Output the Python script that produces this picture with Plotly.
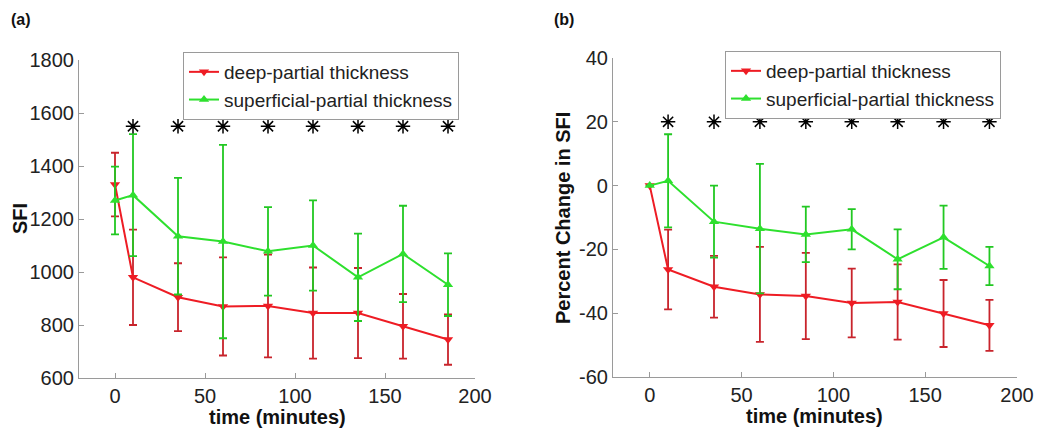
import plotly.graph_objects as go

# ---- data ----
time_min = [0, 10, 35, 60, 85, 110, 135, 160, 185]
star_times = [10, 35, 60, 85, 110, 135, 160, 185]

sfi_deep = [1330, 980, 905, 870, 872, 845, 845, 795, 745]
sfi_deep_err = [120, 180, 128, 185, 194, 172, 170, 122, 95]
sfi_sup = [1270, 1290, 1135, 1115, 1078, 1100, 980, 1068, 952]
sfi_sup_err = [128, 230, 220, 365, 167, 170, 165, 182, 118]
sfi_star_level = 1550

pct_deep = [0, -26.3, -31.7, -34.1, -34.6, -36.8, -36.5, -40.1, -43.8]
pct_deep_err = [0, 12.5, 9.7, 14.9, 13.5, 10.8, 11.8, 10.5, 8]
pct_sup = [0, 1.5, -11.3, -13.5, -15.3, -13.7, -23.1, -16.2, -25.2]
pct_sup_err = [0, 14.6, 11.3, 20.3, 8.7, 6.3, 9.4, 9.9, 6]
pct_star_level = 20

sfi_ticks = [600, 800, 1000, 1200, 1400, 1600, 1800]
pct_ticks = [-60, -40, -20, 0, 20, 40]
pct_tick_text = ["-60", "-40", "-20", "0", "20", "40"]

names = ["deep-partial thickness", "superficial-partial thickness"]
panel_labels = ["(a)", "(b)"]

RED = "#ee1c24"
GREEN = "#2ee02e"
RED_ERR = "#c8242c"
GREEN_ERR = "#22c822"
FONT = "Liberation Sans, Arial, sans-serif"

W, H = 1050, 435
OFF = 8  # page body margin in the browser

def px(x):
    return (x - OFF) / W

def py(y):
    return 1 - (y - OFF) / H

fig = go.Figure()

def add_panel(xa, ya, legend, deep, deep_err, sup, sup_err, star_level):
    fig.add_trace(go.Scatter(
        x=time_min, y=deep, name=names[0], mode="lines+markers",
        line=dict(color=RED, width=2),
        marker=dict(symbol="triangle-down", size=9, color=RED),
        error_y=dict(type="data", array=deep_err, visible=True,
                     color=RED_ERR, thickness=1.8, width=4),
        xaxis=xa, yaxis=ya, legend=legend))
    fig.add_trace(go.Scatter(
        x=time_min, y=sup, name=names[1], mode="lines+markers",
        line=dict(color=GREEN, width=2),
        marker=dict(symbol="triangle-up", size=9, color=GREEN),
        error_y=dict(type="data", array=sup_err, visible=True,
                     color=GREEN_ERR, thickness=1.8, width=4),
        xaxis=xa, yaxis=ya, legend=legend))
    fig.add_trace(go.Scatter(
        x=star_times, y=[star_level] * len(star_times), mode="markers",
        marker=dict(symbol="asterisk-open", size=12, color="black",
                    line=dict(color="black", width=1.5)),
        showlegend=False, hoverinfo="skip", xaxis=xa, yaxis=ya))

add_panel("x", "y", "legend", sfi_deep, sfi_deep_err, sfi_sup, sfi_sup_err, sfi_star_level)
add_panel("x2", "y2", "legend2", pct_deep, pct_deep_err, pct_sup, pct_sup_err, pct_star_level)

axis_common = dict(showgrid=False, zeroline=False, showline=True,
                   linecolor="#9a9a9a", linewidth=1.2, ticks="inside",
                   ticklen=5, tickcolor="#9a9a9a", mirror=False,
                   automargin=False,
                   tickfont=dict(family=FONT, size=20, color="#222"))

legend_common = dict(xanchor="left", yanchor="top",
                     bordercolor="#9a9a9a", borderwidth=1, bgcolor="white",
                     font=dict(family=FONT, size=19, color="#222"),
                     tracegroupgap=0, itemwidth=30)

fig.update_layout(
    width=W, height=H,
    margin=dict(l=0, r=0, t=0, b=0, autoexpand=False),
    paper_bgcolor="white", plot_bgcolor="white",
    showlegend=True,
    xaxis=dict(domain=[px(79), px(475)], range=[-20, 200], dtick=50,
               anchor="y", **axis_common),
    yaxis=dict(domain=[py(378), py(60)], range=[600, 1800],
               tickvals=sfi_ticks, anchor="x", **axis_common),
    xaxis2=dict(domain=[px(613), px(1017)], range=[-20, 200], dtick=50,
                anchor="y2", **axis_common),
    yaxis2=dict(domain=[py(377), py(58)], range=[-60, 40],
                tickvals=pct_ticks, ticktext=pct_tick_text,
                anchor="x2", **axis_common),
    legend=dict(x=px(183), y=py(52), **legend_common),
    legend2=dict(x=px(725), y=py(51), **legend_common),
)

ann_font_b = dict(family=FONT, size=20, color="#111")
annotations = [
    dict(text="<b>" + panel_labels[0] + "</b>", x=px(9), y=py(19), xanchor="left",
         yanchor="middle", font=dict(family=FONT, size=16, color="#111")),
    dict(text="<b>" + panel_labels[1] + "</b>", x=px(552), y=py(19), xanchor="left",
         yanchor="middle", font=dict(family=FONT, size=16, color="#111")),
    dict(text="<b>SFI</b>", x=px(20), y=py(219), textangle=-90,
         xanchor="center", yanchor="middle", font=ann_font_b),
    dict(text="<b>Percent Change in SFI</b>", x=px(563), y=py(218), textangle=-90,
         xanchor="center", yanchor="middle", font=ann_font_b),
    dict(text="<b>time (minutes)</b>", x=px(277), y=py(417),
         xanchor="center", yanchor="middle", font=ann_font_b),
    dict(text="<b>time (minutes)</b>", x=px(814), y=py(416),
         xanchor="center", yanchor="middle", font=ann_font_b),
]
for a in annotations:
    a.update(xref="paper", yref="paper", showarrow=False)
fig.update_layout(annotations=annotations)

fig.write_html("out.html")
